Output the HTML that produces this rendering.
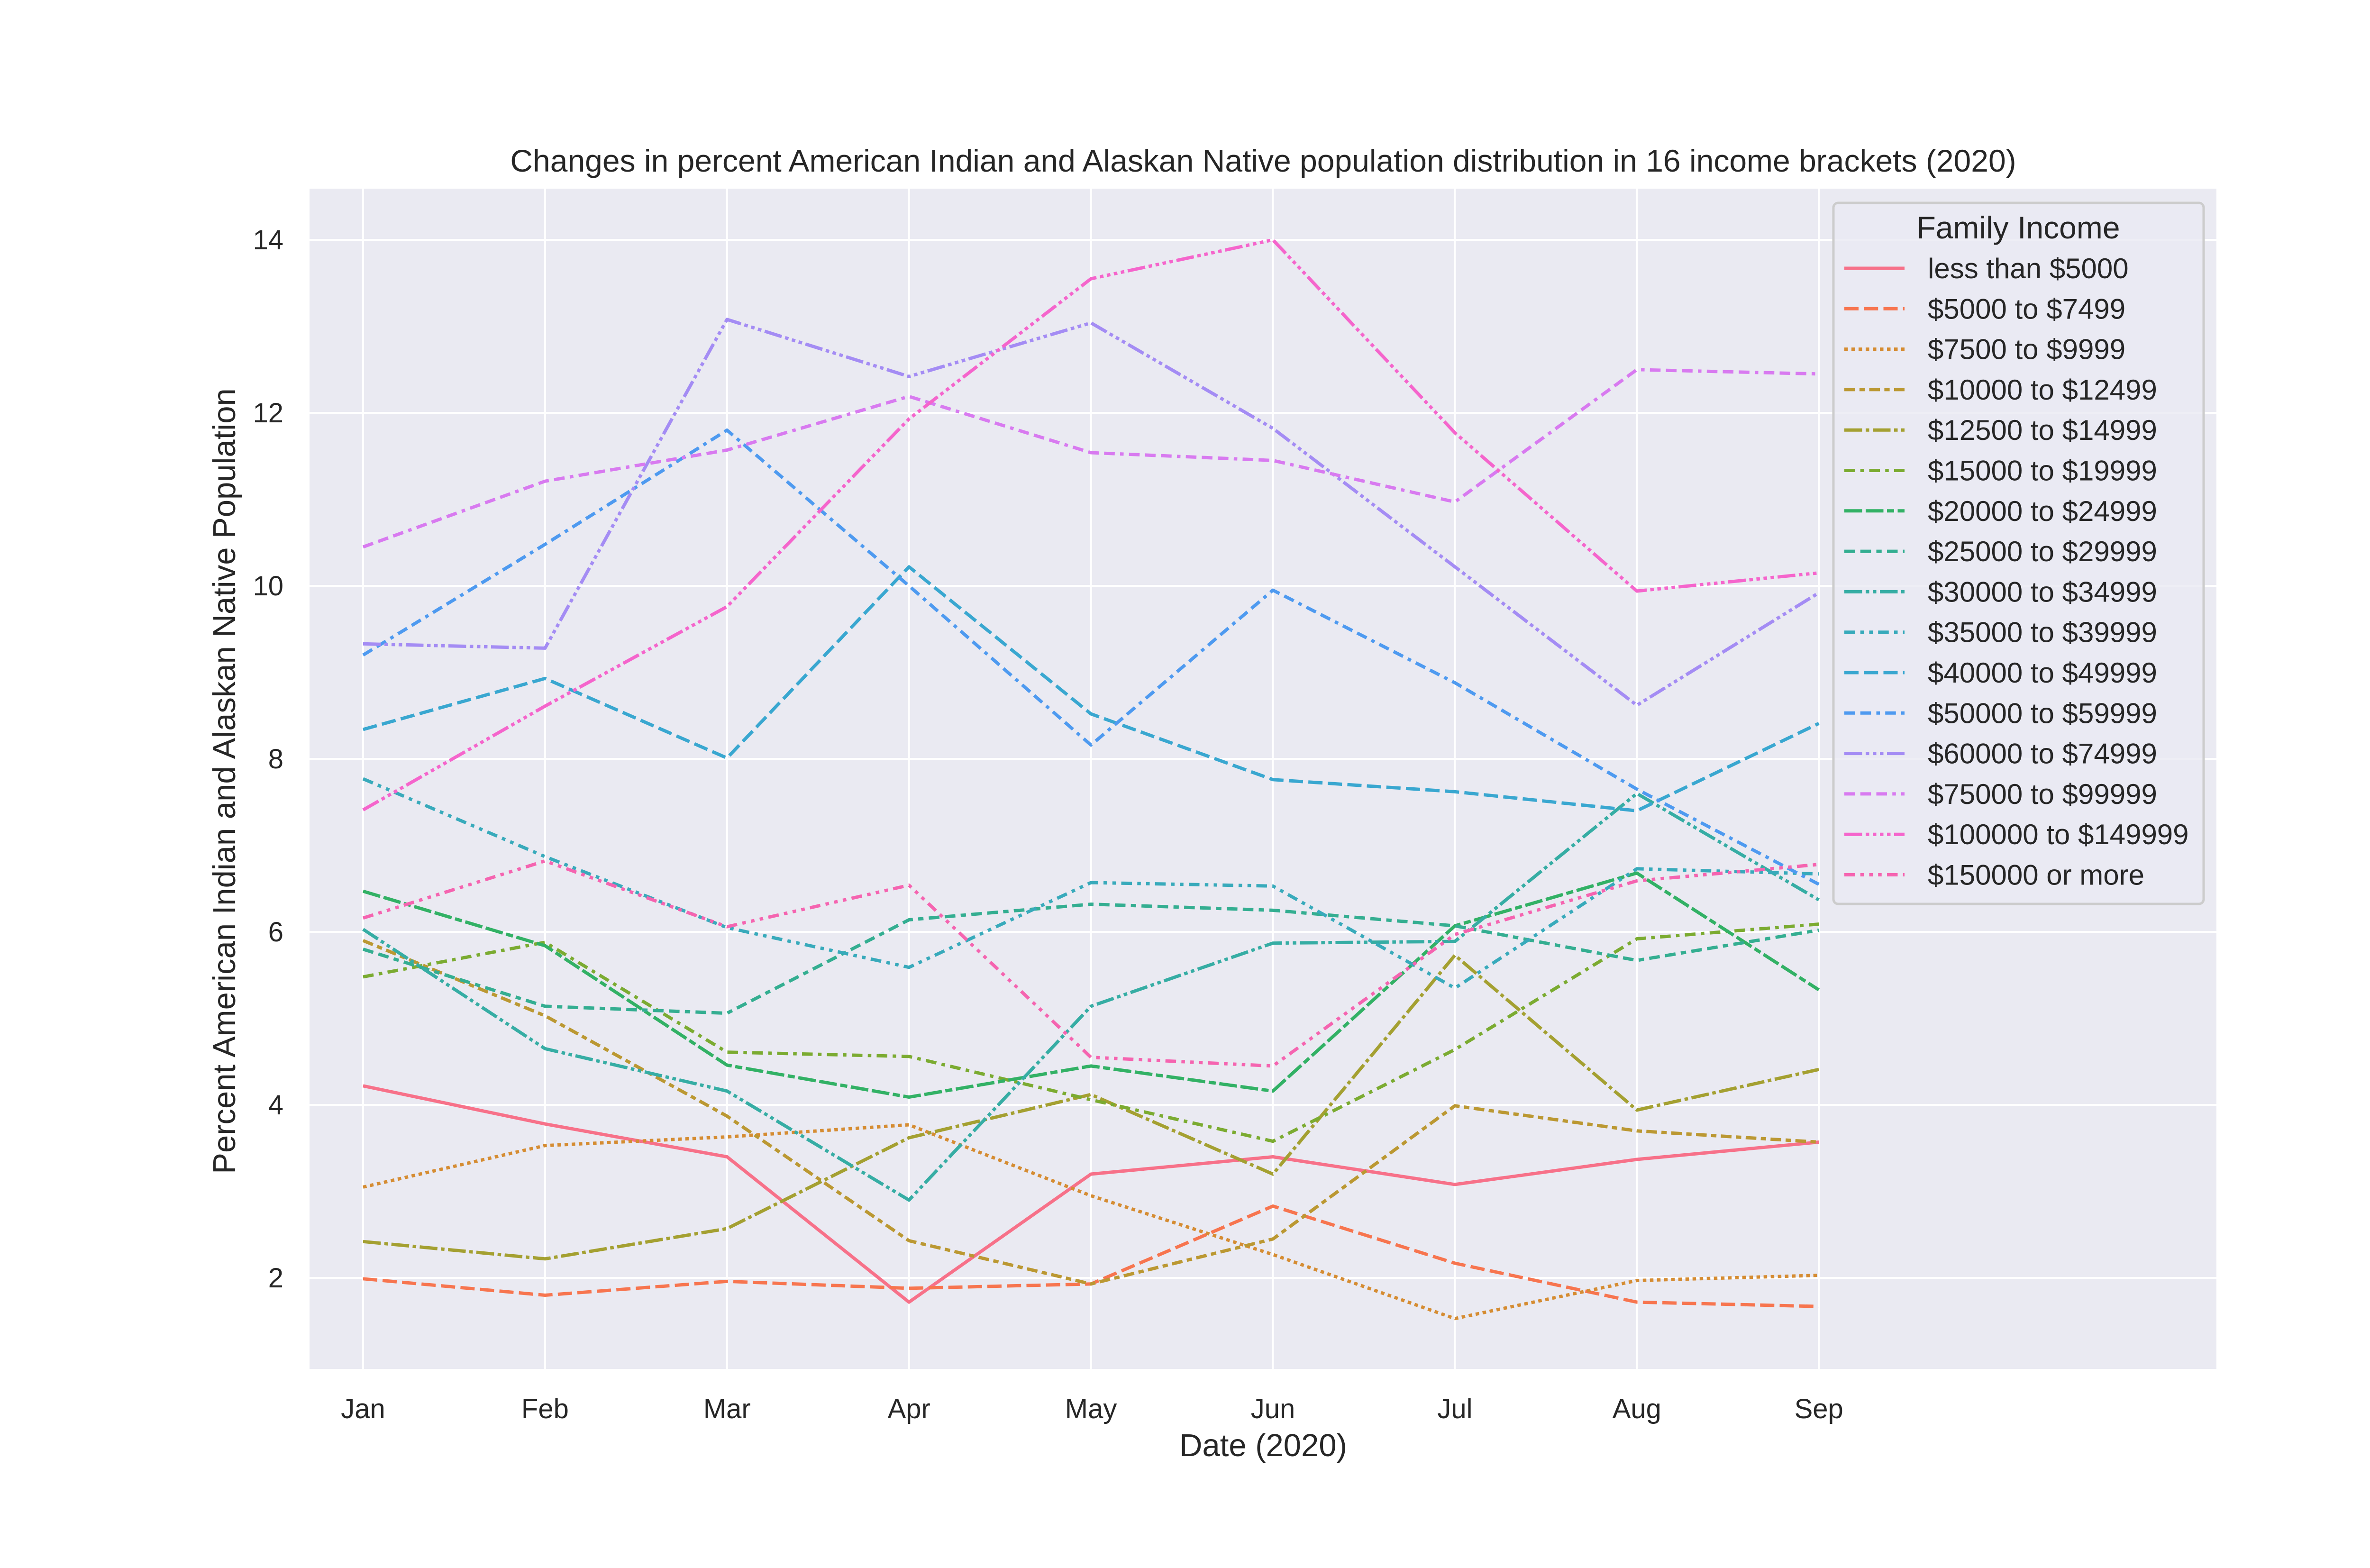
<!DOCTYPE html>
<html><head><meta charset="utf-8"><style>
html,body{margin:0;padding:0;background:#fff;}
svg{display:block;font-family:"Liberation Sans",Arial,sans-serif;}
</style></head><body>
<svg id="chart" width="5200" height="3308" viewBox="0 0 5200 3308" xmlns="http://www.w3.org/2000/svg">
<rect x="0" y="0" width="5200" height="3308" fill="#ffffff"/>
<rect x="653" y="398" width="4023" height="2490" fill="#eaeaf2"/>
<g id="grid"></g>
<g id="series"></g>
<g id="ticks"></g>
<text x="2665" y="362" text-anchor="middle" font-size="66" fill="#262626">Changes in percent American Indian and Alaskan Native population distribution in 16 income brackets (2020)</text>
<text x="2665" y="3072" text-anchor="middle" font-size="67" fill="#262626">Date (2020)</text>
<text x="0" y="0" transform="translate(496,1648) rotate(-90)" text-anchor="middle" font-size="67" fill="#262626">Percent American Indian and Alaskan Native Population</text>
<g id="legend"></g>
</svg>
<script>
const months = ["Jan","Feb","Mar","Apr","May","Jun","Jul","Aug","Sep"];
const yTicks = [2,4,6,8,10,12,14];
const seriesNames = ["less than $5000","$5000 to $7499","$7500 to $9999","$10000 to $12499","$12500 to $14999","$15000 to $19999","$20000 to $24999","$25000 to $29999","$30000 to $34999","$35000 to $39999","$40000 to $49999","$50000 to $59999","$60000 to $74999","$75000 to $99999","$100000 to $149999","$150000 or more"];
const s1 = [4.22,3.78,3.40,1.72,3.20,3.40,3.08,3.37,3.57];
const s2 = [1.99,1.80,1.96,1.88,1.93,2.83,2.17,1.72,1.67];
const s3 = [3.05,3.53,3.63,3.77,2.95,2.27,1.53,1.97,2.03];
const s4 = [5.90,5.03,3.87,2.43,1.93,2.45,3.99,3.70,3.57];
const s5 = [2.42,2.22,2.57,3.62,4.12,3.20,5.73,3.94,4.41];
const s6 = [5.48,5.88,4.61,4.56,4.06,3.58,4.64,5.92,6.09];
const s7 = [6.47,5.84,4.46,4.09,4.45,4.16,6.07,6.68,5.33];
const s8 = [5.80,5.14,5.06,6.14,6.32,6.25,6.07,5.67,6.02];
const s9 = [6.03,4.65,4.16,2.90,5.14,5.87,5.89,7.60,6.37];
const s10 = [7.77,6.87,6.05,5.59,6.57,6.53,5.35,6.73,6.67];
const s11 = [8.34,8.93,8.01,10.22,8.52,7.76,7.62,7.40,8.41];
const s12 = [9.20,10.48,11.80,10.00,8.16,9.95,8.88,7.65,6.55];
const s13 = [9.33,9.28,13.08,12.42,13.04,11.82,10.22,8.62,9.92];
const s14 = [10.45,11.21,11.57,12.19,11.54,11.45,10.97,12.50,12.45];
const s15 = [7.41,8.61,9.76,11.93,13.55,14.00,11.77,9.94,10.15];
const s16 = [6.16,6.82,6.06,6.54,4.55,4.45,5.97,6.59,6.78];
const allSeries = [s1,s2,s3,s4,s5,s6,s7,s8,s9,s10,s11,s12,s13,s14,s15,s16];
const colors = ["#f77189","#f7754f","#d58c32","#bb9832","#a4a031","#7bab31","#32b165","#34ae91","#36ada4","#38aabb","#39a7d0","#4e9af0","#a48cf4","#d87af0","#f565cc","#f564b0"];
const U = 7.5;
const dashes = [[],[4,1.5],[1,1],[3,1.25,1.5,1.25],[5,1,1,1],[3,1.5,1,1.5],[5,1,5,1,2,1],[3,1.5,3,1.5,1.5,1.5],[5,1,1,1,1,1],[3,1.5,1,1.5,1,1.5],[4,1.5,4,1.5],[3,1.5,3,1.5,1,1.5],[5,1,1,1,1,1,1,1],[3,1.5,3,1.5,3,1.5,1,1.5],[5,1,1,1,1,1,1,1,1,1],[3,1.5,1,1.5,1,1.5,1,1.5]];
const NS = "http://www.w3.org/2000/svg";
function xs(i){ return 766 + i*383.9; }
function ys(v){ return 2696 - (v-2)*182.5; }
function mk(tag, attrs, parent){ const e=document.createElementNS(NS,tag); for(const k in attrs) e.setAttribute(k,attrs[k]); parent.appendChild(e); return e; }
const grid=document.getElementById('grid'), ticks=document.getElementById('ticks'), ser=document.getElementById('series'), leg=document.getElementById('legend');
months.forEach((m,i)=>{
  const l=mk('line',{x1:xs(i),x2:xs(i),y1:398,y2:2888,stroke:'#fff','stroke-width':4},grid);
  
  
  const t=mk('text',{x:xs(i),y:2992,'text-anchor':'middle','font-size':58,fill:'#262626'},ticks);
  t.textContent=m;
  
  
});
yTicks.forEach(v=>{
  const l=mk('line',{x1:653,x2:4676,y1:ys(v),y2:ys(v),stroke:'#fff','stroke-width':4},grid);
  
  
  const t=mk('text',{x:598,y:ys(v)+20,'text-anchor':'end','font-size':58,fill:'#262626'},ticks);
  t.textContent=v;
  
  
});
allSeries.forEach((s,k)=>{
  const pts=s.map((v,i)=>xs(i).toFixed(1)+','+ys(v).toFixed(1)).join(' ');
  const p=mk('polyline',{points:pts,fill:'none',stroke:colors[k],'stroke-width':7,'stroke-linejoin':'round'},ser);
  if(dashes[k].length) p.setAttribute('stroke-dasharray',dashes[k].map(d=>d*U).join(' '));
  
  
});
const box=mk('rect',{x:3868,y:428,width:781,height:1479,rx:10,fill:'#eaeaf2','fill-opacity':0.8,stroke:'#cccccc','stroke-width':5},leg);


const lt=mk('text',{x:4258,y:503,'text-anchor':'middle','font-size':66,fill:'#262626'},leg);
lt.textContent='Family Income';


seriesNames.forEach((n,k)=>{
  const y=566+k*85.3;
  const l=mk('line',{x1:3891,x2:4018,y1:y,y2:y,stroke:colors[k],'stroke-width':7},leg);
  if(dashes[k].length) l.setAttribute('stroke-dasharray',dashes[k].map(d=>d*U).join(' '));
  
  
  const t=mk('text',{x:4067,y:y+21,'font-size':60,fill:'#262626'},leg);
  t.textContent=n;
  
  
});
</script>
</body></html>
